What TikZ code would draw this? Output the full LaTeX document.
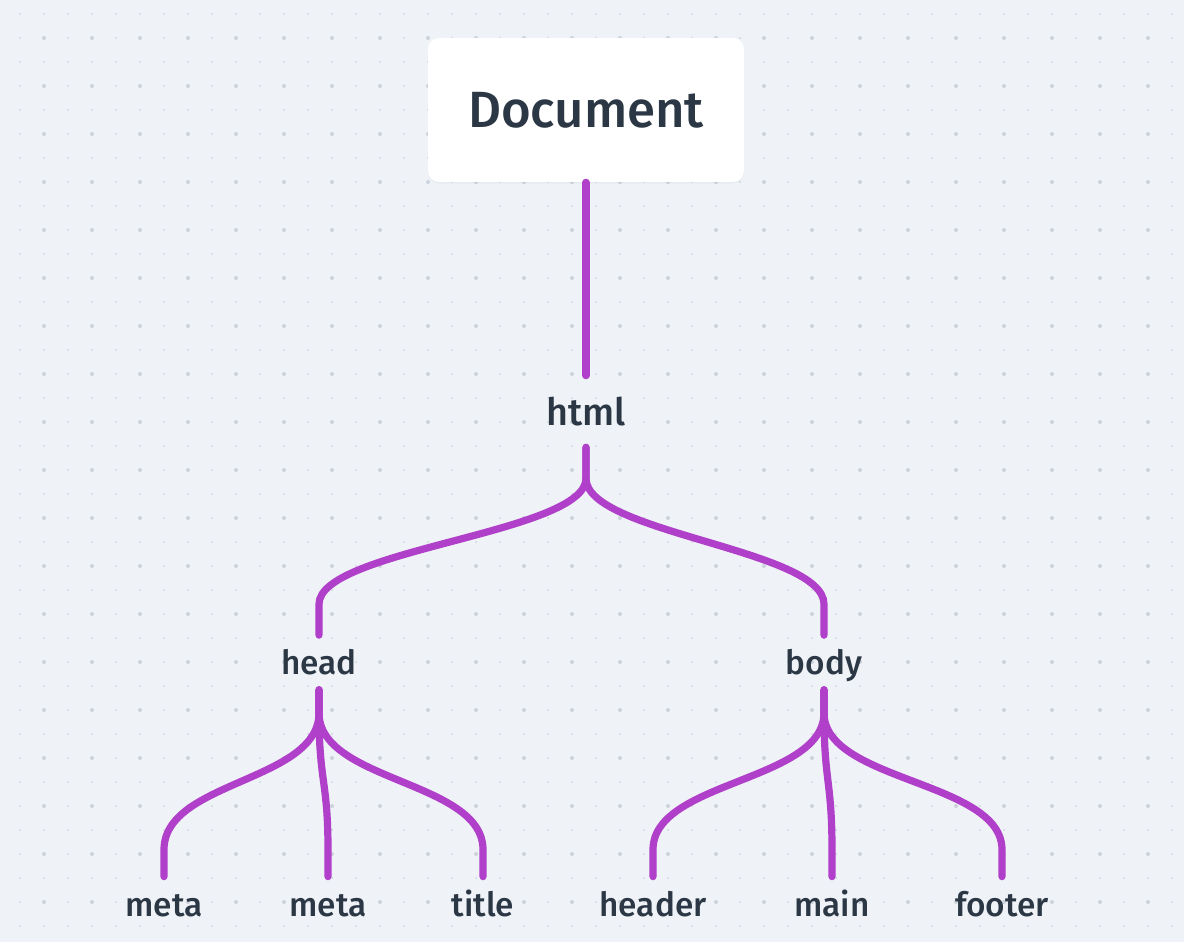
\documentclass[tikz,border=0pt]{standalone}
\usepackage{fontspec}
\setmainfont{Fira Sans}[UprightFont={* Medium}]
\usepackage{tikz}
\usetikzlibrary{calc,shadows}

\definecolor{paper}{HTML}{EFF3F7}
\definecolor{dotgrey}{HTML}{CCD3DC}
\definecolor{ink}{HTML}{2B3744}
\definecolor{plum}{HTML}{B03FC9}

\begin{document}
\begin{tikzpicture}[x=0.02cm,y=-0.02cm]
    \tikzstyle{wire}=[draw=plum, line width=4.1pt, line cap=round]
    \tikzstyle{tagname}=[inner sep=0pt, text depth=0pt, text=ink]
    \tikzstyle{docbox}=[rounded corners=0.22cm, fill=white, minimum width=6.32cm, minimum height=2.88cm,
      inner sep=0pt, text=ink, font=\fontsize{29}{30}\selectfont,
      drop shadow={shadow xshift=0pt, shadow yshift=-1pt, opacity=0.06}]
    \tikzstyle{top}=[tagname, font=\fontsize{21.5}{22}\selectfont, text height=0.57cm, minimum height=1.42cm]
    \tikzstyle{mid}=[tagname, font=\fontsize{19}{20}\selectfont, text height=0.5cm, minimum height=1.08cm]
    \tikzstyle{leaf}=[tagname, font=\fontsize{19}{20}\selectfont, text height=0.43cm, minimum height=1.14cm]

    % background and dot grid
    \fill[paper] (0,0) rectangle (1184,942);
    \useasboundingbox (0,0) rectangle (1184,942);
    \foreach \i in {0,...,48}
      \foreach \j in {0,...,38}
        \fill[dotgrey] (20+24*\i,14+24*\j) circle (0.02cm);
    \foreach \i in {0,...,23}
      \foreach \j in {0,...,18}
        \fill[dotgrey] (44+48*\i,38+48*\j) circle (0.04cm);

    % nodes
    \node[docbox] (doc)  at (586,110)   {Document};
    \node[top]    (html) at (586,411.5) {html};
    \node[mid]    (head) at (319,662.5) {head};
    \node[mid]    (body) at (824,662.5) {body};
    \node[leaf]   (meta1)  at (164,905.5) {meta};
    \node[leaf]   (meta2)  at (328,905.5) {meta};
    \node[leaf]   (title)  at (483,905.5) {title};
    \node[leaf]   (header) at (653,905.5) {header};
    \node[leaf]   (main)   at (832,905.5) {main};
    \node[leaf]   (footer) at (1002,905.5) {footer};

    % connectors
    \draw[wire] (doc.south) -- (html.north);
    \foreach \c in {head,body}
      \draw[wire] (html.south) -- ++(0,31) .. controls +(0,55) and +(0,-55) .. ($(\c.north)+(0,-31)$) -- (\c.north);
    \foreach \c in {meta1,meta2,title}
      \draw[wire] (head.south) -- ++(0,23) .. controls +(0,69) and +(0,-69) .. ($(\c.north)+(0,-27)$) -- (\c.north);
    \foreach \c in {header,main,footer}
      \draw[wire] (body.south) -- ++(0,23) .. controls +(0,69) and +(0,-69) .. ($(\c.north)+(0,-27)$) -- (\c.north);
\end{tikzpicture}
\end{document}
